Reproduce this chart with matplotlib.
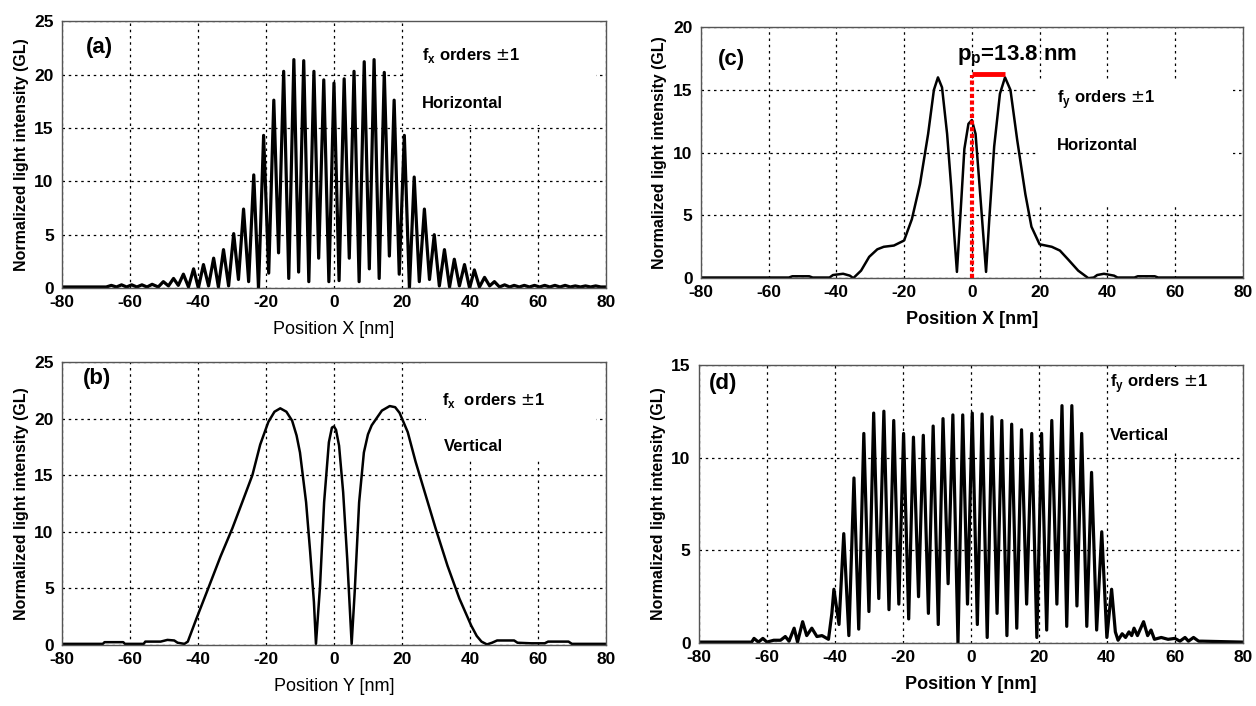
import matplotlib
matplotlib.use("Agg")
import matplotlib.pyplot as plt
from matplotlib.patches import Rectangle

plt.rcParams['font.family'] = ['Liberation Sans', 'DejaVu Sans']
plt.rcParams['axes.unicode_minus'] = False

# ---- panel (a): fx orders +-1, horizontal ----
a_peak_x = [-50.2, -47.2, -44.3, -41.3, -38.4, -35.4, -32.5, -29.5, -26.6, -23.6, -20.7, -17.7,
            -14.8, -11.8, -8.9, -5.9, -3.0, 0.0, 3.0, 5.9, 8.9, 11.8, 14.8, 17.7, 20.7, 23.6,
            26.6, 29.5, 32.5, 35.4, 38.4, 41.3, 44.3, 47.2, 50.2]
a_peak_y = [0.6, 0.9, 1.3, 1.8, 2.2, 2.8, 3.6, 5.1, 7.4, 10.6, 14.3, 17.6, 20.3, 21.4, 21.3,
            20.3, 19.5, 19.2, 19.6, 20.3, 21.2, 21.4, 20.2, 17.6, 14.3, 10.4, 7.4, 5.0, 3.6,
            2.7, 2.2, 1.7, 1.0, 0.6, 0.3]
a_trough_x = [-48.7, -45.8, -42.8, -39.9, -36.9, -34.0, -31.0, -28.1, -25.1, -22.2, -19.2,
              -16.3, -13.3, -10.4, -7.4, -4.5, -1.5, 1.5, 4.5, 7.4, 10.4, 13.3, 16.3, 19.2,
              22.2, 25.1, 28.1, 31.0, 34.0, 36.9, 39.9, 42.8, 45.8, 48.7]
a_trough_y = [0.2, 0.25, 0.1, 0.0, 0.2, 0.1, 0.2, 0.8, 0.6, 0.0, 1.4, 3.3, 0.9, 1.5, 0.6, 2.8,
              0.6, 0.7, 2.8, 0.6, 1.8, 0.9, 3.0, 1.3, 0.0, 0.6, 0.8, 0.2, 0.1, 0.2, 0.0, 0.1,
              0.2, 0.1]
a_tail_x = [-80, -67, -65.5, -64, -62.5, -61, -59.5, -58, -56.5, -55, -53.5, -51.7,
            51.7, 53, 54.5, 56, 57.5, 59, 60.5, 62, 63.5, 65, 66.5, 68, 69.5, 71, 72.5, 74,
            75.5, 77, 78.5, 80]
a_tail_y = [0.1, 0.1, 0.25, 0.1, 0.3, 0.1, 0.3, 0.1, 0.3, 0.1, 0.35, 0.1,
            0.1, 0.25, 0.1, 0.25, 0.1, 0.25, 0.1, 0.25, 0.1, 0.25, 0.1, 0.25, 0.1, 0.2, 0.1,
            0.2, 0.1, 0.2, 0.1, 0.1]

# ---- panel (b): fx orders +-1, vertical ----
b_x = [-80, -68, -67.5, -62, -61.5, -56, -55.5, -51, -49, -47, -46, -44, -43, -40.5, -37,
       -33.4, -29.9, -27, -24, -21.7, -19.3, -17.5, -15.8, -14, -12.3, -11, -10, -8.2, -7.0,
       -5.9, -5.3, -4.1, -2.9, -1.5, -0.6, 0, 0.6, 1.5, 2.7, 3.9, 5.2, 6.1, 7.4, 8.8, 10,
       11.1, 14.1, 16.4, 18, 19.3, 21.7, 24, 27, 29.9, 33.4, 36.9, 40.4, 42, 43.4, 45, 46.5,
       48, 53, 54, 58, 62, 63, 69, 70, 80]
b_y = [0.1, 0.1, 0.25, 0.25, 0.1, 0.1, 0.3, 0.3, 0.45, 0.4, 0.2, 0.1, 0.3, 2.3, 5.0, 7.8,
       10.3, 12.6, 15.0, 17.7, 19.7, 20.6, 20.9, 20.6, 19.8, 18.5, 17.0, 12.6, 8.2, 3.8, 0.1,
       5.2, 12.6, 17.9, 19.2, 19.3, 19.0, 17.6, 13.5, 7.6, 0.1, 4.7, 12.6, 17.0, 18.6, 19.4,
       20.7, 21.1, 21.0, 20.5, 18.8, 16.2, 13.2, 10.3, 7.0, 4.1, 1.7, 0.8, 0.3, 0.05, 0.2,
       0.4, 0.4, 0.2, 0.15, 0.15, 0.3, 0.3, 0.1, 0.1]

# ---- panel (c): fy orders +-1, horizontal ----
c_x = [-80, -54, -53, -48, -47, -42, -41, -38, -36, -35, -32.7, -30.3, -27.9, -26, -23, -20,
       -17.7, -15.3, -12.9, -11.2, -10, -8.8, -7.3, -6.1, -5.2, -4.4, -3.4, -2.2, -1.0, 0,
       1.1, 2.3, 3.5, 4.2, 5.2, 6.6, 8.3, 9.8, 11.4, 13.4, 15.8, 17.6, 20, 23.6, 26, 28.4,
       31.4, 34.4, 36, 37, 39, 42, 43, 48, 49, 54, 55, 80]
c_y = [0.05, 0.05, 0.15, 0.15, 0.05, 0.05, 0.25, 0.35, 0.2, 0.0, 0.6, 1.7, 2.3, 2.5, 2.6,
       3.0, 4.7, 7.5, 11.5, 15.0, 16.0, 15.2, 11.5, 7.3, 3.5, 0.5, 4.9, 10.3, 12.3, 12.6,
       11.5, 7.3, 3.0, 0.5, 4.9, 10.5, 14.7, 16.0, 15.0, 11.0, 6.7, 4.1, 2.7, 2.5, 2.2, 1.5,
       0.6, 0.0, 0.05, 0.25, 0.35, 0.2, 0.05, 0.05, 0.15, 0.15, 0.05, 0.05]
pitch_x = [0, 9.8]
pitch_y = 16.3

# ---- panel (d): fy orders +-1, vertical ----
d_peak_x = [-40.3, -37.4, -34.4, -31.5, -28.6, -25.6, -22.7, -19.8, -16.9, -14.0, -11.1, -8.2,
            -5.3, -2.4, 0.4, 3.3, 6.2, 9.1, 12.0, 14.9, 17.9, 20.8, 23.8, 26.8, 29.7, 32.6,
            35.5, 38.5, 41.4]
d_peak_y = [2.9, 5.9, 8.9, 11.3, 12.4, 12.5, 12.0, 11.3, 11.1, 11.2, 11.7, 12.1, 12.3, 12.3,
            12.4, 12.35, 12.2, 12.0, 11.8, 11.5, 11.3, 11.3, 12.0, 12.8, 12.8, 11.3, 9.2, 6.0,
            2.9]
d_trough_x = [-38.8, -35.9, -33.0, -30.0, -27.1, -24.1, -21.2, -18.3, -15.4, -12.5, -9.6,
              -6.7, -3.8, -1.0, 1.9, 4.8, 7.7, 10.6, 13.5, 16.4, 19.4, 22.3, 25.3, 28.2, 31.2,
              34.1, 37.0, 40.0]
d_trough_y = [1.0, 0.4, 0.75, 1.7, 2.4, 1.8, 2.1, 1.3, 2.5, 1.6, 1.0, 3.2, 0.0, 2.1, 1.0, 0.3,
              1.6, 0.4, 0.8, 2.1, 0.3, 0.7, 2.1, 0.9, 2.0, 0.9, 0.7, 0.3]
d_tail_x = [-80, -64.5, -63.8, -62.5, -61.2, -60, -58, -56, -54.6, -53.5, -52, -51, -49.5,
            -48.3, -46.8, -45.3, -43.8, -41.9, -40.9,
            42.5, 43.3, 44.5, 45.5, 46.5, 47.3, 48, 49, 50.8, 52, 53, 54, 56, 58, 60, 61.5,
            63, 64, 65.5, 67, 68, 80]
d_tail_y = [0.05, 0.05, 0.25, 0.05, 0.25, 0.05, 0.15, 0.15, 0.35, 0.1, 0.8, 0.05, 1.15,
            0.4, 0.8, 0.35, 0.4, 0.2, 1.6,
            0.6, 0.15, 0.5, 0.3, 0.6, 0.4, 0.8, 0.4, 1.15, 0.4, 0.7, 0.2, 0.3, 0.2, 0.25, 0.1,
            0.3, 0.1, 0.3, 0.1, 0.1, 0.05]

xticks = [-80, -60, -40, -20, 0, 20, 40, 60, 80]


def merge(*pairs):
    pts = []
    for xs, ys in pairs:
        pts.extend(zip(xs, ys))
    pts.sort()
    return [p[0] for p in pts], [p[1] for p in pts]


def setup(ax, ymax, ystep, xlabel, bold_x):
    ax.set_xlim(-80, 80)
    ax.set_ylim(0, ymax)
    ax.set_xticks(xticks)
    ax.set_yticks(list(range(0, ymax + 1, ystep)))
    ax.set_axisbelow(True)
    ax.grid(True, color='black', linestyle=(0, (2, 3)), linewidth=0.9)
    ax.tick_params(axis='x', length=0, labelsize=12.5, pad=5)
    ax.tick_params(axis='y', length=0, labelsize=12.5, pad=6)
    for lab in ax.get_xticklabels() + ax.get_yticklabels():
        lab.set_fontweight('bold')
    for s in ax.spines.values():
        s.set_color('#555555')
        s.set_linewidth(1.0)
    ax.set_ylabel('Normalized light intensity (GL)', fontsize=11.5, fontweight='bold',
                  labelpad=4)
    ax.set_xlabel(xlabel, fontsize=13, fontweight='bold' if bold_x else 'normal', labelpad=8)


def blank(ax, x0, x1, y0, y1):
    ax.add_patch(Rectangle((x0, y0), x1 - x0, y1 - y0, facecolor='white',
                           edgecolor='none', zorder=1))


fig = plt.figure(figsize=(12.56, 7.06), dpi=100)

# (a)
ax = fig.add_axes([0.0494, 0.592, 0.433, 0.378])
setup(ax, 25, 5, 'Position X [nm]', False)
xa, ya = merge((a_peak_x, a_peak_y), (a_trough_x, a_trough_y), (a_tail_x, a_tail_y))
ax.plot(xa, ya, color='black', linewidth=2.3, zorder=2)
blank(ax, 21, 77, 15.3, 24.9)
ax.text(-69, 22.5, '(a)', fontsize=16, fontweight='bold', ha='center', va='center', zorder=3)
ax.text(26, 21.8, r'f$_\mathregular{x}$ orders $\pm$1', fontsize=12, fontweight='bold',
        va='center', zorder=3)
ax.text(26, 17.3, 'Horizontal', fontsize=12, fontweight='bold', va='center', zorder=3)

# (b)
ax = fig.add_axes([0.0494, 0.0864, 0.433, 0.401])
setup(ax, 25, 5, 'Position Y [nm]', False)
ax.plot(b_x, b_y, color='black', linewidth=1.8, zorder=2)
blank(ax, 27, 77, 16.5, 24.9)
ax.text(-69.8, 23.5, '(b)', fontsize=16, fontweight='bold', ha='center', va='center', zorder=3)
ax.text(31.7, 21.6, r'f$_\mathregular{x}$  orders $\pm$1', fontsize=12, fontweight='bold',
        va='center', zorder=3)
ax.text(32.2, 17.5, 'Vertical', fontsize=12, fontweight='bold', va='center', zorder=3)

# (c)
ax = fig.add_axes([0.558, 0.606, 0.4315, 0.3555])
setup(ax, 20, 5, 'Position X [nm]', True)
ax.plot(c_x, c_y, color='black', linewidth=1.8, zorder=2)
blank(ax, 19, 77, 5.8, 15.6)
ax.plot([0, 0], [0, pitch_y - 0.1], color='red', linewidth=3, linestyle=(0, (1, 0.6)), zorder=4)
ax.plot(pitch_x, [pitch_y, pitch_y], color='red', linewidth=3.5, zorder=4,
        solid_capstyle='butt')
ax.text(-71, 17.4, '(c)', fontsize=16, fontweight='bold', ha='center', va='center', zorder=3)
ax.text(13.4, 17.7, r'p$_\mathregular{p}$=13.8 nm', fontsize=16, fontweight='bold',
        ha='center', va='center', zorder=3)
ax.text(25, 14.2, r'f$_\mathregular{y}$ orders $\pm$1', fontsize=12, fontweight='bold',
        va='center', zorder=3)
ax.text(25, 10.6, 'Horizontal', fontsize=12, fontweight='bold', va='center', zorder=3)

# (d)
ax = fig.add_axes([0.5565, 0.0892, 0.433, 0.394])
setup(ax, 15, 5, 'Position Y [nm]', True)
xd, yd = merge((d_peak_x, d_peak_y), (d_trough_x, d_trough_y), (d_tail_x, d_tail_y))
ax.plot(xd, yd, color='black', linewidth=2.3, zorder=2)
blank(ax, 41, 79, 10.3, 14.9)
ax.text(-73, 14.0, '(d)', fontsize=16, fontweight='bold', ha='center', va='center', zorder=3)
ax.text(40.8, 14.0, r'f$_\mathregular{y}$ orders $\pm$1', fontsize=12, fontweight='bold',
        va='center', zorder=3)
ax.text(40.8, 11.2, 'Vertical', fontsize=12, fontweight='bold', va='center', zorder=3)

fig.savefig('out.png', dpi=100)
